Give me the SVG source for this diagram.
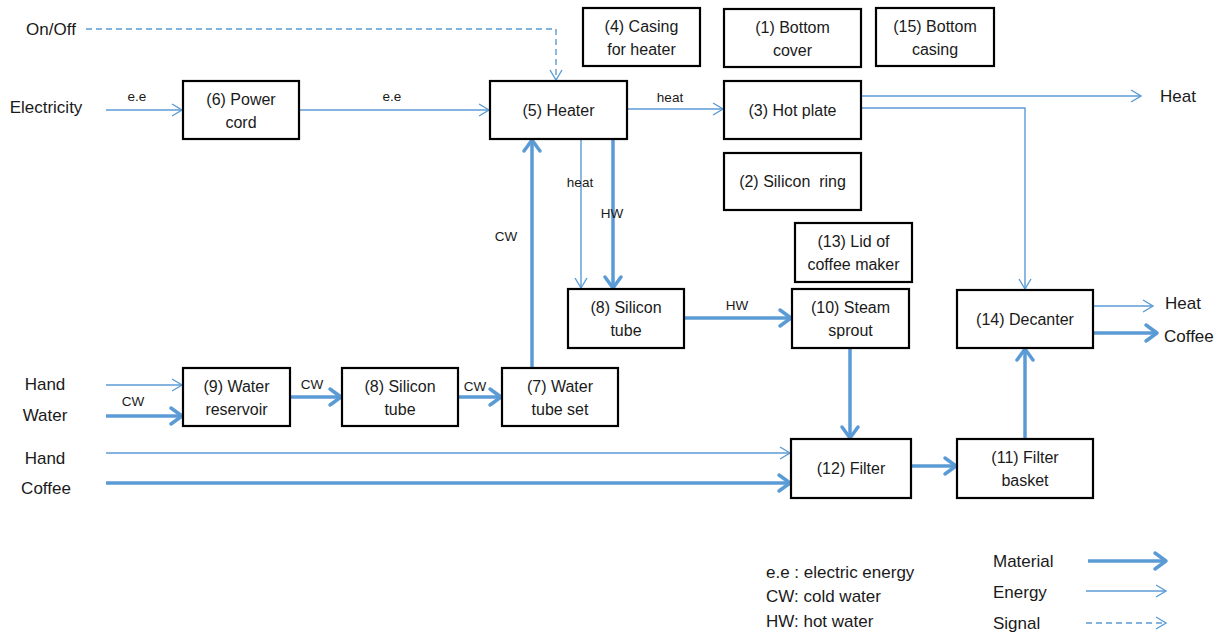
<svg xmlns="http://www.w3.org/2000/svg" width="1225" height="639" viewBox="0 0 1225 639">
<defs>
<style>
.box{fill:#fff;stroke:#000;stroke-width:2.2}
.t{font-family:"Liberation Sans",Arial,sans-serif;font-size:16px;fill:#1a1a1a;text-anchor:middle}
.o{font-family:"Liberation Sans",Arial,sans-serif;font-size:17px;fill:#1a1a1a;text-anchor:middle}
.tl{font-family:"Liberation Sans",Arial,sans-serif;font-size:17px;fill:#1a1a1a}
.s{font-family:"Liberation Sans",Arial,sans-serif;font-size:13.5px;fill:#1a1a1a;text-anchor:middle}
.thin{fill:none;stroke:#5B9BD5;stroke-width:1.4;marker-end:url(#aThin)}
.thick{fill:none;stroke:#5B9BD5;stroke-width:3.5;marker-end:url(#aThick)}
.sig{fill:none;stroke:#5B9BD5;stroke-width:1.4;stroke-dasharray:6 4;marker-end:url(#aSig)}
</style>
<marker id="aThin" markerUnits="userSpaceOnUse" markerWidth="14" markerHeight="16" refX="11" refY="7" orient="auto" overflow="visible">
<path d="M1,1 L11,7 L1,13" fill="none" stroke="#5B9BD5" stroke-width="1.4"/>
</marker>
<marker id="aSig" markerUnits="userSpaceOnUse" markerWidth="14" markerHeight="16" refX="11" refY="7" orient="auto" overflow="visible">
<path d="M1,1 L11,7 L1,13" fill="none" stroke="#5B9BD5" stroke-width="1.4"/>
</marker>
<marker id="aThick" markerUnits="userSpaceOnUse" markerWidth="20" markerHeight="22" refX="13" refY="9" orient="auto" overflow="visible">
<path d="M2,1 L13,9 L2,17" fill="none" stroke="#5B9BD5" stroke-width="3.5" stroke-linecap="round" stroke-linejoin="round"/>
</marker>
</defs>
<rect width="1225" height="639" fill="#fff"/>

<g id="connectors">
<path class="sig" d="M86,29 H556 V80"/>
<path class="thin" d="M106,110 H182"/>
<path class="thin" d="M299,110 H489"/>
<path class="thin" d="M627,109 H723"/>
<path class="thin" d="M861,96 H1141"/>
<path class="thin" d="M861,108 H1025 V289"/>
<path class="thin" d="M581,139 V288"/>
<path class="thick" d="M613,139 V288"/>
<path class="thick" d="M532,368 V140"/>
<path class="thick" d="M684,318 H791"/>
<path class="thick" d="M850,348 V438"/>
<path class="thick" d="M911,466 H956"/>
<path class="thick" d="M1025,439 V349"/>
<path class="thin" d="M1093,306 H1153"/>
<path class="thick" d="M1093,333 H1157"/>
<path class="thin" d="M106,385 H182"/>
<path class="thick" d="M106,416 H182"/>
<path class="thick" d="M290,397 H341"/>
<path class="thick" d="M458,397 H501"/>
<path class="thin" d="M106,453 H790"/>
<path class="thick" d="M106,483 H790"/>
<path class="thick" d="M1088,561 H1166"/>
<path class="thin" d="M1086,591 H1166"/>
<path class="sig" d="M1086,623 H1166"/>
<text class="s" x="137" y="101">e.e</text>
<text class="s" x="392" y="101">e.e</text>
<text class="s" x="670" y="102">heat</text>
<text class="s" x="580" y="187">heat</text>
<text class="s" x="612" y="218">HW</text>
<text class="s" x="506" y="241">CW</text>
<text class="s" x="737" y="310">HW</text>
<text class="s" x="133" y="406">CW</text>
<text class="s" x="312" y="389">CW</text>
<text class="s" x="475" y="391">CW</text>
</g>

<g id="labels">
<text class="o" x="51" y="35">On/Off</text>
<text class="o" x="46" y="113">Electricity</text>
<text class="tl" x="1160" y="102">Heat</text>
<text class="tl" x="1165" y="309">Heat</text>
<text class="tl" x="1164" y="342">Coffee</text>
<text class="o" x="45" y="390">Hand</text>
<text class="o" x="45" y="421">Water</text>
<text class="o" x="45" y="464">Hand</text>
<text class="o" x="46" y="494">Coffee</text>
</g>

<g id="legend">
<text class="tl" x="766" y="578">e.e : electric energy</text>
<text class="tl" x="766" y="602">CW: cold water</text>
<text class="tl" x="766" y="627">HW: hot water</text>
<text class="tl" x="993" y="567">Material</text>
<text class="tl" x="993" y="598">Energy</text>
<text class="tl" x="993" y="629">Signal</text>
</g>

<g id="n6"><rect class="box" x="183" y="81" width="116" height="58"/><text class="t" x="241" y="104.5">(6) Power</text><text class="t" x="241" y="127.5">cord</text></g>
<g id="n5"><rect class="box" x="490" y="81" width="137" height="58"/><text class="t" x="558.5" y="116">(5) Heater</text></g>
<g id="n4"><rect class="box" x="583" y="8" width="117" height="58"/><text class="t" x="641.5" y="32">(4) Casing</text><text class="t" x="641.5" y="55">for heater</text></g>
<g id="n1"><rect class="box" x="724" y="9" width="137" height="58"/><text class="t" x="792.5" y="33">(1) Bottom</text><text class="t" x="792.5" y="56">cover</text></g>
<g id="n15"><rect class="box" x="876" y="8" width="118" height="58"/><text class="t" x="935" y="32">(15) Bottom</text><text class="t" x="935" y="55">casing</text></g>
<g id="n3"><rect class="box" x="724" y="81" width="137" height="58"/><text class="t" x="792.5" y="116">(3) Hot plate</text></g>
<g id="n2"><rect class="box" x="724" y="153" width="137" height="57"/><text class="t" x="792.5" y="187" xml:space="preserve">(2) Silicon  ring</text></g>
<g id="n13"><rect class="box" x="795" y="223" width="117" height="59"/><text class="t" x="853.5" y="247">(13) Lid of</text><text class="t" x="853.5" y="270">coffee maker</text></g>
<g id="n8a"><rect class="box" x="568" y="289" width="116" height="59"/><text class="t" x="626" y="313">(8) Silicon</text><text class="t" x="626" y="336">tube</text></g>
<g id="n10"><rect class="box" x="792" y="289" width="117" height="59"/><text class="t" x="850.5" y="313">(10) Steam</text><text class="t" x="850.5" y="336">sprout</text></g>
<g id="n14"><rect class="box" x="957" y="290" width="136" height="58"/><text class="t" x="1025" y="325">(14) Decanter</text></g>
<g id="n12"><rect class="box" x="791" y="439" width="120" height="59"/><text class="t" x="851" y="474">(12) Filter</text></g>
<g id="n11"><rect class="box" x="957" y="439" width="136" height="59"/><text class="t" x="1025" y="463">(11) Filter</text><text class="t" x="1025" y="486">basket</text></g>
<g id="n9"><rect class="box" x="183" y="368" width="107" height="58"/><text class="t" x="236.5" y="392">(9) Water</text><text class="t" x="236.5" y="415">reservoir</text></g>
<g id="n8b"><rect class="box" x="342" y="368" width="116" height="58"/><text class="t" x="400" y="392">(8) Silicon</text><text class="t" x="400" y="415">tube</text></g>
<g id="n7"><rect class="box" x="502" y="368" width="116" height="58"/><text class="t" x="560" y="392">(7) Water</text><text class="t" x="560" y="415">tube set</text></g>
</svg>
